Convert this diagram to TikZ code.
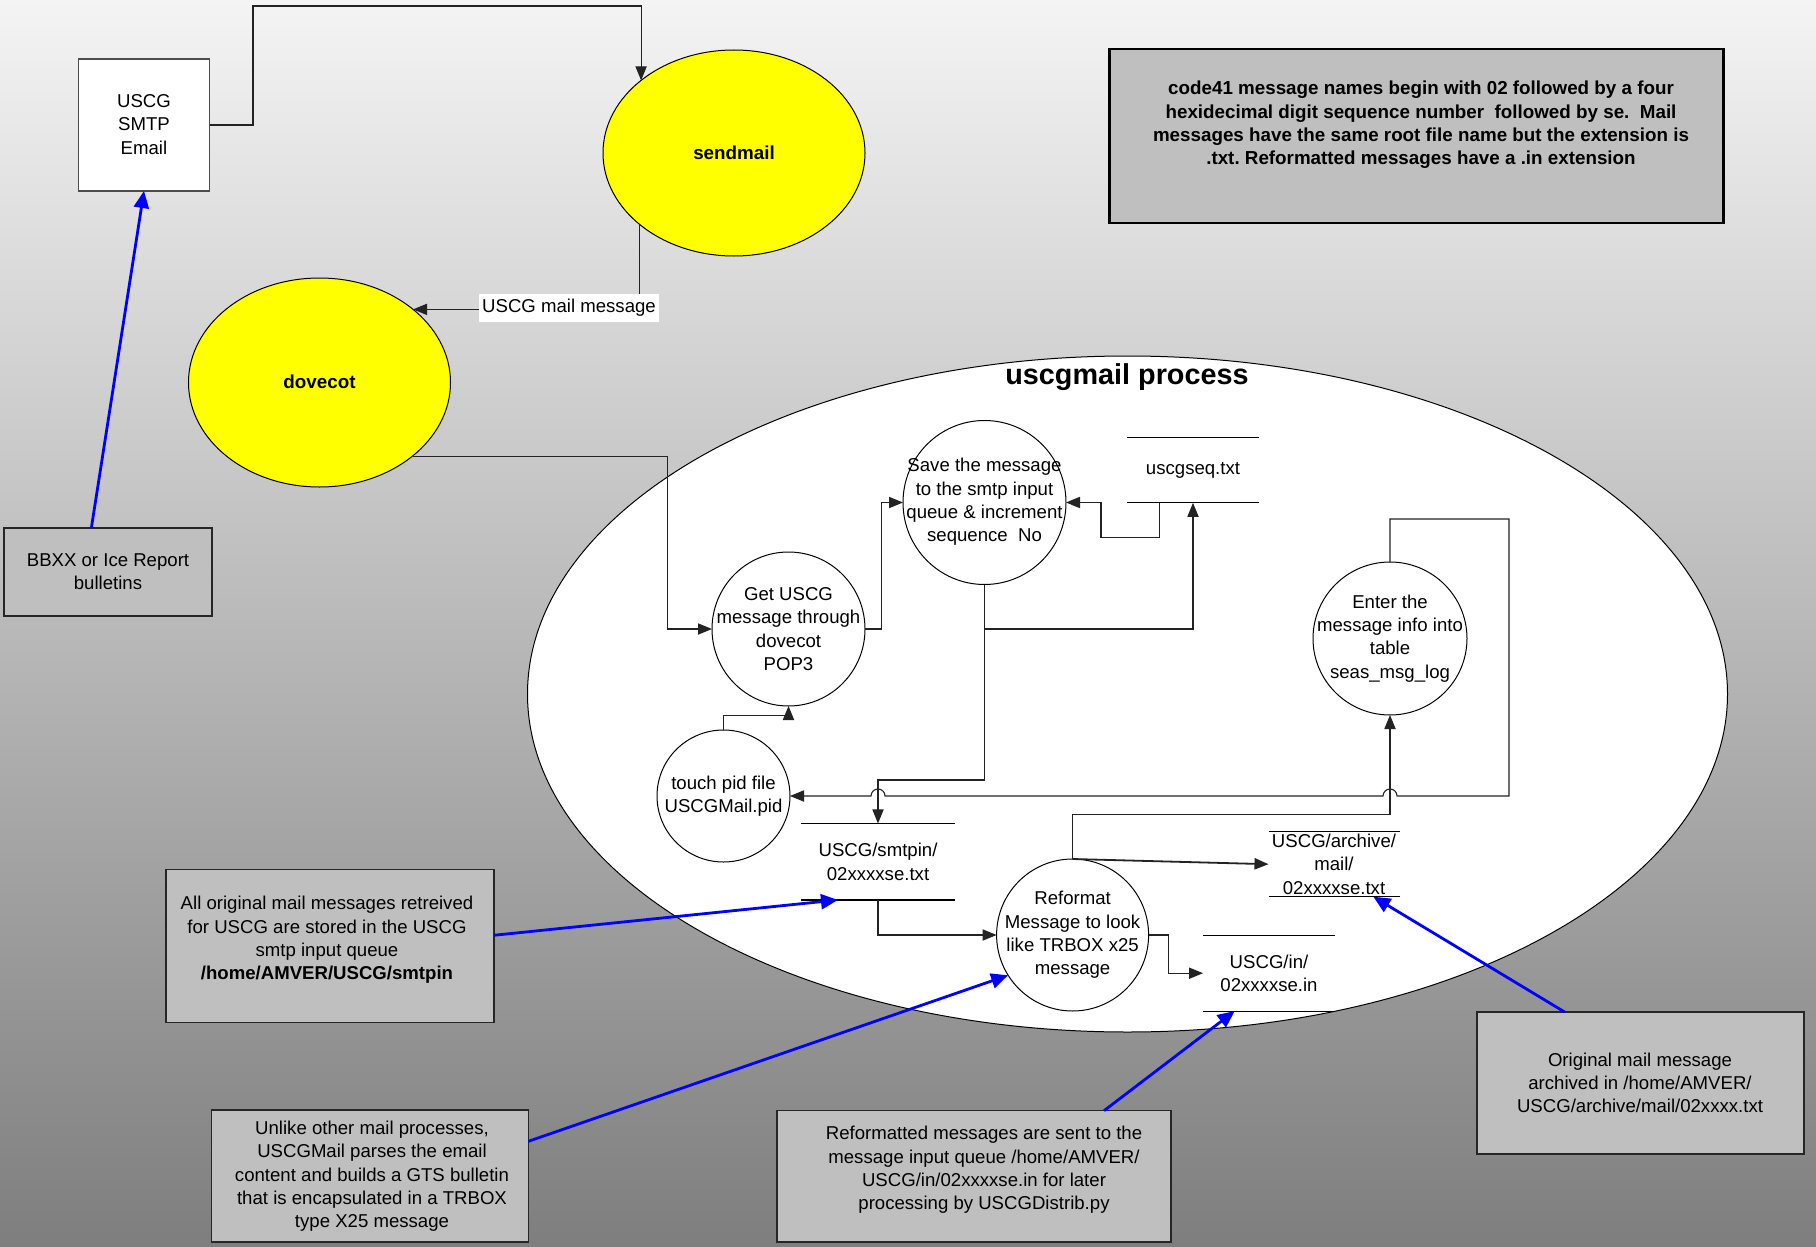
\documentclass[tikz,border=0pt]{standalone}
\usepackage{fontspec}
\setmainfont{Liberation Sans}
\frenchspacing
\usetikzlibrary{shapes.geometric,arrows.meta,calc}
\definecolor{bgtop}{RGB}{244,244,244}
\definecolor{bgbot}{RGB}{126,126,126}
\definecolor{notefill}{RGB}{191,191,191}
\definecolor{linecol}{RGB}{35,35,35}
\definecolor{arrowblue}{RGB}{0,0,255}
\definecolor{sunyellow}{RGB}{255,255,0}
\begin{document}
\begin{tikzpicture}[x=0.5pt,y=-0.5pt,
  every node/.style={font=\fontsize{9.3}{11.65}\selectfont, inner sep=0pt, outer sep=0pt},
  conn/.style={draw=linecol, line width=0.55pt, -{Triangle[length=7pt,width=5.6pt]}},
  bluearr/.style={draw=arrowblue, line width=1.4pt, -{Triangle[length=8.5pt,width=7.5pt]}},
  proc/.style={ellipse, draw=black, line width=0.5pt, fill=white},
  daemon/.style={ellipse, draw=black, line width=0.5pt, fill=sunyellow},
  note/.style={rectangle, draw=black!85, line width=0.7pt, fill=notefill},
  txt/.style={align=center},
  boldtxt/.style={align=center, font=\fontsize{9.4}{11.65}\selectfont\bfseries},
  store/.style={rectangle},
  storeline/.style={draw=black, line width=0.55pt}]

\shade[top color=bgtop, bottom color=bgbot] (0,0) rectangle (1816,1247);
\useasboundingbox (0,0) rectangle (1816,1247);

% main process boundary
\node[proc, minimum width=600pt, minimum height=338pt] (big) at (1127.5,694) {};
\node[font=\fontsize{14.4}{17}\selectfont\bfseries] (title) at (1127,377) {uscgmail process};

% external
\node[rectangle, draw=black!70, line width=0.6pt, fill=white, minimum width=65.5pt, minimum height=66pt] (smtp) at (144,125) {};
\node[txt] (smtpT) at (144,124.5) {USCG\\SMTP\\Email};

\node[daemon, minimum width=131pt, minimum height=103pt] (sendmail) at (734,153) {};
\node[boldtxt] (sendmailT) at (734,153) {sendmail};
\node[daemon, minimum width=131pt, minimum height=104.5pt] (dovecot) at (319.5,382.5) {};
\node[boldtxt] (dovecotT) at (319.5,382) {dovecot};

\node[note, line width=1.35pt, draw=black, minimum width=307pt, minimum height=87pt] (n0) at (1416.7,136) {};
\node[boldtxt] (n0T) at (1421,125) {code41 message names begin with 02 followed by a four\\hexidecimal digit sequence number~ followed by se.~ Mail\\messages have the same root file name but the extension is\\.txt. Reformatted messages have a .in extension};

% processes
\node[proc, minimum width=76.5pt, minimum height=77pt] (get) at (788.5,629) {};
\node[txt] (getT) at (get) {Get USCG\\message through\\dovecot\\POP3};
\node[proc, minimum width=81.5pt, minimum height=82pt] (save) at (984.5,502.5) {};
\node[txt] (saveT) at (984.5,502) {Save the message\\to the smtp input\\queue \& increment\\sequence~ No};
\node[proc, minimum width=66.5pt, minimum height=66pt] (touch) at (723.5,796) {};
\node[txt] (touchT) at (touch) {touch pid file\\USCGMail.pid};
\node[proc, minimum width=77pt, minimum height=76.5pt] (enter) at (1390,638.5) {};
\node[txt] (enterT) at (enter) {Enter the\\message info into\\table\\seas\_msg\_log};
\node[proc, minimum width=76pt, minimum height=76pt] (reformat) at (1072.6,935) {};
\node[txt] (reformatT) at (reformat) {Reformat\\Message to look\\like TRBOX x25\\message};

% data stores
\node[store, minimum width=66pt, minimum height=32.85pt] (seq) at (1193,470) {};
\node[txt] (seqT) at (seq) {uscgseq.txt};
\node[store, minimum width=77pt, minimum height=38.25pt] (smtpin) at (878,861.7) {};
\node[txt] (smtpinT) at (smtpin) {USCG/smtpin/\\02xxxxse.txt};
\node[store, minimum width=65.5pt, minimum height=32.5pt] (archive) at (1334,864.2) {};
\node[txt] (archiveT) at (archive) {USCG/archive/\\mail/\\02xxxxse.txt};
\node[store, minimum width=66pt, minimum height=37.85pt] (inq) at (1269,973.2) {};
\node[txt] (inqT) at (inq) {USCG/in/\\02xxxxse.in};
\foreach \s in {seq,smtpin,archive,inq} {
  \draw[storeline] (\s.north west) -- (\s.north east) (\s.south west) -- (\s.south east);
}

% notes
\node[note, minimum width=104pt, minimum height=44pt] (bbxx) at (108,572) {};
\node[txt] (bbxxT) at (108,571.5) {BBXX or Ice Report\\bulletins};
\node[note, minimum width=164pt, minimum height=76.7pt] (n1) at (330,946) {};
\node[txt] (n1T) at (327,940) {All original mail messages retreived\\for USCG are stored in the USCG\\smtp input queue\\\textbf{/home/AMVER/USCG/smtpin}};
\node[note, minimum width=158.5pt, minimum height=66pt] (n2) at (370,1176) {};
\node[txt] (n2T) at (372,1176.4) {Unlike other mail processes,\\USCGMail parses the email\\content and builds a GTS bulletin\\that is encapsulated in a TRBOX\\type X25 message};
\node[note, minimum width=197pt, minimum height=65.7pt] (n3) at (974,1176.4) {};
\node[txt] (n3T) at (984,1170) {Reformatted messages are sent to the\\message input queue /home/AMVER/\\USCG/in/02xxxxse.in for later\\processing by USCGDistrib.py};
\node[note, minimum width=163.5pt, minimum height=71pt] (n4) at (1640.5,1083) {};
\node[txt] (n4T) at (1640,1083) {Original mail message\\archived in /home/AMVER/\\USCG/archive/mail/02xxxx.txt};

% connectors
\draw[conn] (smtp.east) -| (253,6) -| (sendmail.142.4);
\draw[conn] (sendmail.217.6) |- (dovecot.38.5);
\node[fill=white, inner xsep=1.5pt, inner ysep=2.5pt] (mlabel) at (569,308) {USCG mail message};
\draw[conn] (dovecot.321.9) -| (667.7,629) -- (get.west);
\draw[conn] (get.east) -- (881.7,629) |- (save.west);
\draw[conn] ($(seq.south west)!0.245!(seq.south east)$) |- (1101,537.7) |- (save.east);
\draw[conn] (save.south) |- (1193,629) -- (seq.south);
\draw[conn] (save.south) |- (878,780) -- (smtpin.north);
\draw[conn] (touch.north) |- (788.5,715.7) -- (get.south);
\draw[conn] (enter.north) |- (1509,519) |- (1397,796)
  arc[start angle=0, end angle=180, radius=3.5pt] -- (885,796)
  arc[start angle=0, end angle=180, radius=3.5pt] -- (touch.east);
\draw[conn] (reformat.north) |- (1390,814.3) -- (enter.south);
\draw[conn, line width=0.9pt] (reformat.north) -- (archive.west);
\draw[conn] (smtpin.south) |- (reformat.west);
\draw[conn] (reformat.east) -- (1168.3,935) |- (inq.west);

% blue annotation arrows
\draw[bluearr] ($(bbxx.north west)!0.42!(bbxx.north east)$) -- (smtp.south);
\draw[bluearr] ($(n1.north east)!0.43!(n1.south east)$) -- ($(smtpin.south west)!0.24!(smtpin.south east)$);
\draw[bluearr] ($(n2.north east)!0.237!(n2.south east)$) -- (reformat.212.2);
\draw[bluearr] ($(n3.north west)!0.83!(n3.north east)$) -- ($(inq.south west)!0.24!(inq.south east)$);
\draw[bluearr] ($(n4.north west)!0.268!(n4.north east)$) -- ($(archive.south west)!0.80!(archive.south east)$);
\end{tikzpicture}
\end{document}
